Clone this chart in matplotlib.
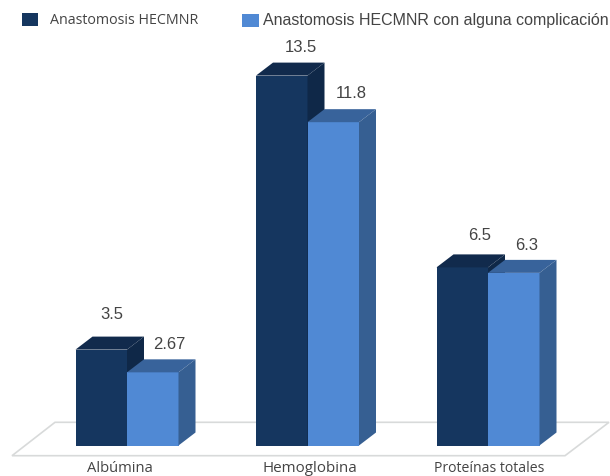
import matplotlib
matplotlib.use('Agg')
import matplotlib.pyplot as plt
from matplotlib.patches import Polygon, Rectangle

categories = ['Albúmina', 'Hemoglobina', 'Proteínas totales']
series_names = ['Anastomosis HECMNR', 'Anastomosis HECMNR con alguna complicación']
hecmnr = [3.5, 13.5, 6.5]
complicacion = [2.67, 11.8, 6.3]
value_labels = [['3.5', '13.5', '6.5'], ['2.67', '11.8', '6.3']]

W, H = 610, 476
fig = plt.figure(figsize=(W / 100, H / 100), dpi=100)
ax = fig.add_axes([0, 0, 1, 1])

# px per unit on each axis, baseline and first group centre in px
py = 27.4
px = 180.5
base = 445.5
x0 = 127
ax.set_xlim(-x0 / px, (W - x0) / px)
ax.set_ylim(-(H - base) / py, base / py)
ax.axis('off')

bar_w = 51.5 / px
dep_x = 17 / px
dep_y = 13 / py

dark = ('#15365f', '#112a4c', '#0f2848')
light = ('#5089d4', '#38639b', '#365f92')
text_col = '#444444'


def draw_bar(x, val, cols, z):
    front, top, side = cols
    ax.add_patch(Rectangle((x, 0), bar_w, val, fc=front, ec='none', zorder=z))
    ax.add_patch(Polygon([(x, val), (x + dep_x, val + dep_y), (x + bar_w + dep_x, val + dep_y),
                          (x + bar_w, val)], fc=top, ec='none', zorder=z))
    ax.add_patch(Polygon([(x + bar_w, 0), (x + bar_w + dep_x, dep_y), (x + bar_w + dep_x, val + dep_y),
                          (x + bar_w, val)], fc=side, ec='none', zorder=z))


# floor of the 3d plot
ax.add_patch(Polygon([(-115 / px, -10.2 / py), (-72 / px, 23.2 / py), (482 / px, 23.2 / py), (438 / px, -10.2 / py)],
                     fc='white', ec='#d8dada', lw=1.2, zorder=1))

for i in range(len(categories)):
    draw_bar(i - bar_w, hecmnr[i], dark, 2)
    draw_bar(i, complicacion[i], light, 3)

# value labels sit above each bar, offsets in pixels (0.72 pt per px at 100 dpi)
dark_offsets = [(-15, 35), (-6.5, 27.6), (-8, 32)]
light_offsets = [(42, 28), (43.5, 29), (39, 27)]
for i in range(len(categories)):
    ax.annotate(value_labels[0][i], (i, hecmnr[i]), xytext=(dark_offsets[i][0] * 0.72, dark_offsets[i][1] * 0.72),
                textcoords='offset points', ha='center', va='center',
                fontsize=12, family='Liberation Sans', color=text_col)
    ax.annotate(value_labels[1][i], (i, complicacion[i]), xytext=(light_offsets[i][0] * 0.72, light_offsets[i][1] * 0.72),
                textcoords='offset points', ha='center', va='center',
                fontsize=12, family='Liberation Sans', color=text_col)

# category names, placed by baseline so the descenders stay inside the figure
cat_x = [120, 310, 489]
cat_y = [472, 472, 471.5]
cat_size = [10.6, 10.9, 10.1]
for name, cx, cy, fs in zip(categories, cat_x, cat_y, cat_size):
    fig.text(cx / W, 1 - cy / H, name, ha='center', va='baseline', fontsize=fs,
             family='Open Sans', color=text_col)

# legend
fig.patches.append(Rectangle((22 / W, 1 - 26 / H), 16 / W, 13 / H, transform=fig.transFigure, fc=dark[0], ec='none'))
fig.patches.append(Rectangle((242 / W, 1 - 27 / H), 17 / W, 13 / H, transform=fig.transFigure, fc=light[0], ec='none'))
fig.text(50 / W, 1 - 20 / H, series_names[0], ha='left', va='center', fontsize=10.3,
         family='Open Sans', color=text_col)
fig.text(263 / W, 1 - 20.5 / H, series_names[1], ha='left', va='center', fontsize=11.5,
         family='Liberation Sans', color=text_col)

fig.savefig('out.png', dpi=100)
